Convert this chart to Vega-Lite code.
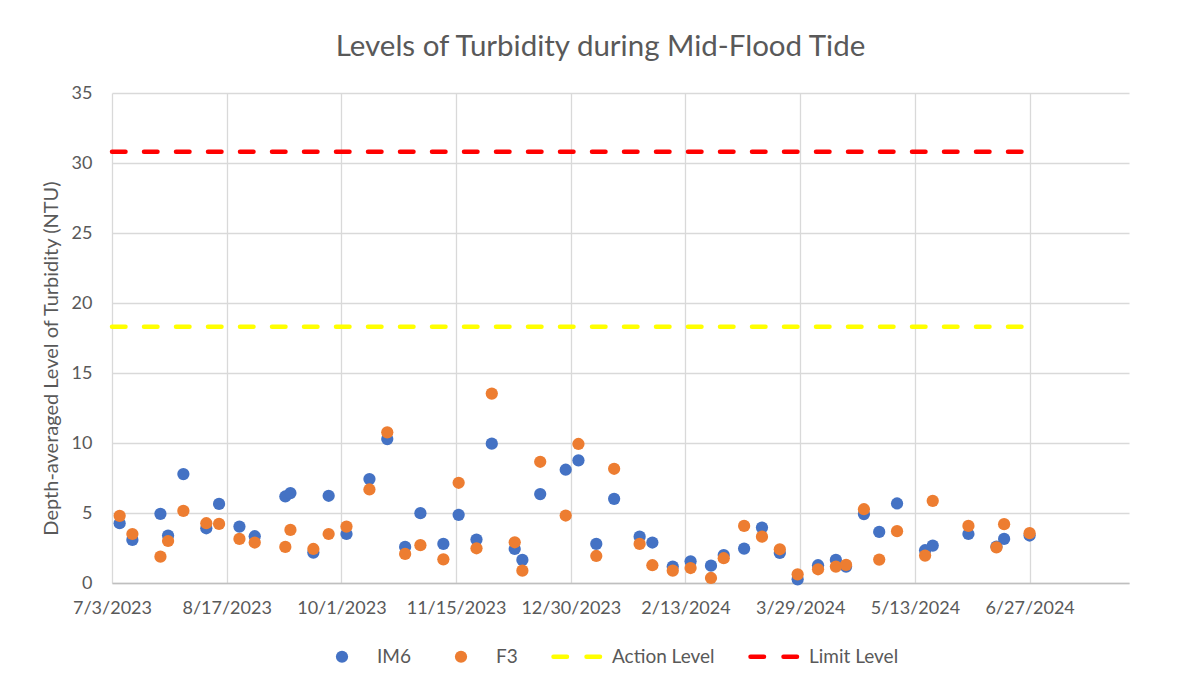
{
  "$schema": "https://vega.github.io/schema/vega-lite/v6.json",
  "width": 1017,
  "height": 490,
  "autosize": {"type": "none"},
  "padding": {"left": 112, "top": 93, "right": 63, "bottom": 103},
  "background": "white",
  "config": {"view": {"stroke": null}, "font": "Lato"},
  "title": {"text": "Levels of Turbidity during Mid-Flood Tide", "fontSize": 29.5, "font": "Lato", "fontWeight": "normal", "color": "#595959", "anchor": "middle", "dx": -20, "offset": 22},
  "datasets": {
    "pts": [
      {"date": "2023-07-06", "series": "IM6", "value": 4.27},
      {"date": "2023-07-11", "series": "IM6", "value": 3.08},
      {"date": "2023-07-22", "series": "IM6", "value": 4.94},
      {"date": "2023-07-25", "series": "IM6", "value": 3.39},
      {"date": "2023-07-31", "series": "IM6", "value": 7.78},
      {"date": "2023-08-09", "series": "IM6", "value": 3.91},
      {"date": "2023-08-14", "series": "IM6", "value": 5.65},
      {"date": "2023-08-22", "series": "IM6", "value": 4.03},
      {"date": "2023-08-28", "series": "IM6", "value": 3.34},
      {"date": "2023-09-09", "series": "IM6", "value": 6.18},
      {"date": "2023-09-11", "series": "IM6", "value": 6.42},
      {"date": "2023-09-20", "series": "IM6", "value": 2.17},
      {"date": "2023-09-26", "series": "IM6", "value": 6.23},
      {"date": "2023-10-03", "series": "IM6", "value": 3.5},
      {"date": "2023-10-12", "series": "IM6", "value": 7.42},
      {"date": "2023-10-19", "series": "IM6", "value": 10.28},
      {"date": "2023-10-26", "series": "IM6", "value": 2.58},
      {"date": "2023-11-01", "series": "IM6", "value": 4.99},
      {"date": "2023-11-10", "series": "IM6", "value": 2.79},
      {"date": "2023-11-16", "series": "IM6", "value": 4.87},
      {"date": "2023-11-23", "series": "IM6", "value": 3.1},
      {"date": "2023-11-29", "series": "IM6", "value": 9.95},
      {"date": "2023-12-08", "series": "IM6", "value": 2.43},
      {"date": "2023-12-11", "series": "IM6", "value": 1.65},
      {"date": "2023-12-18", "series": "IM6", "value": 6.35},
      {"date": "2023-12-28", "series": "IM6", "value": 8.09},
      {"date": "2024-01-02", "series": "IM6", "value": 8.76},
      {"date": "2024-01-09", "series": "IM6", "value": 2.79},
      {"date": "2024-01-16", "series": "IM6", "value": 6.01},
      {"date": "2024-01-26", "series": "IM6", "value": 3.31},
      {"date": "2024-01-31", "series": "IM6", "value": 2.89},
      {"date": "2024-02-08", "series": "IM6", "value": 1.17},
      {"date": "2024-02-15", "series": "IM6", "value": 1.55},
      {"date": "2024-02-23", "series": "IM6", "value": 1.24},
      {"date": "2024-02-28", "series": "IM6", "value": 2.0},
      {"date": "2024-03-07", "series": "IM6", "value": 2.46},
      {"date": "2024-03-14", "series": "IM6", "value": 3.96},
      {"date": "2024-03-21", "series": "IM6", "value": 2.15},
      {"date": "2024-03-28", "series": "IM6", "value": 0.26},
      {"date": "2024-04-05", "series": "IM6", "value": 1.27},
      {"date": "2024-04-12", "series": "IM6", "value": 1.65},
      {"date": "2024-04-16", "series": "IM6", "value": 1.17},
      {"date": "2024-04-23", "series": "IM6", "value": 4.92},
      {"date": "2024-04-29", "series": "IM6", "value": 3.65},
      {"date": "2024-05-06", "series": "IM6", "value": 5.68},
      {"date": "2024-05-17", "series": "IM6", "value": 2.34},
      {"date": "2024-05-20", "series": "IM6", "value": 2.67},
      {"date": "2024-06-03", "series": "IM6", "value": 3.5},
      {"date": "2024-06-14", "series": "IM6", "value": 2.6},
      {"date": "2024-06-17", "series": "IM6", "value": 3.15},
      {"date": "2024-06-27", "series": "IM6", "value": 3.39},
      {"date": "2023-07-06", "series": "F3", "value": 4.8},
      {"date": "2023-07-11", "series": "F3", "value": 3.5},
      {"date": "2023-07-22", "series": "F3", "value": 1.88},
      {"date": "2023-07-25", "series": "F3", "value": 3.0},
      {"date": "2023-07-31", "series": "F3", "value": 5.15},
      {"date": "2023-08-09", "series": "F3", "value": 4.27},
      {"date": "2023-08-14", "series": "F3", "value": 4.22},
      {"date": "2023-08-22", "series": "F3", "value": 3.15},
      {"date": "2023-08-28", "series": "F3", "value": 2.89},
      {"date": "2023-09-09", "series": "F3", "value": 2.58},
      {"date": "2023-09-11", "series": "F3", "value": 3.79},
      {"date": "2023-09-20", "series": "F3", "value": 2.43},
      {"date": "2023-09-26", "series": "F3", "value": 3.5},
      {"date": "2023-10-03", "series": "F3", "value": 4.03},
      {"date": "2023-10-12", "series": "F3", "value": 6.68},
      {"date": "2023-10-19", "series": "F3", "value": 10.76},
      {"date": "2023-10-26", "series": "F3", "value": 2.08},
      {"date": "2023-11-01", "series": "F3", "value": 2.7},
      {"date": "2023-11-10", "series": "F3", "value": 1.69},
      {"date": "2023-11-16", "series": "F3", "value": 7.16},
      {"date": "2023-11-23", "series": "F3", "value": 2.48},
      {"date": "2023-11-29", "series": "F3", "value": 13.53},
      {"date": "2023-12-08", "series": "F3", "value": 2.91},
      {"date": "2023-12-11", "series": "F3", "value": 0.88},
      {"date": "2023-12-18", "series": "F3", "value": 8.66},
      {"date": "2023-12-28", "series": "F3", "value": 4.82},
      {"date": "2024-01-02", "series": "F3", "value": 9.93},
      {"date": "2024-01-09", "series": "F3", "value": 1.93},
      {"date": "2024-01-16", "series": "F3", "value": 8.16},
      {"date": "2024-01-26", "series": "F3", "value": 2.79},
      {"date": "2024-01-31", "series": "F3", "value": 1.27},
      {"date": "2024-02-08", "series": "F3", "value": 0.88},
      {"date": "2024-02-15", "series": "F3", "value": 1.07},
      {"date": "2024-02-23", "series": "F3", "value": 0.36},
      {"date": "2024-02-28", "series": "F3", "value": 1.77},
      {"date": "2024-03-07", "series": "F3", "value": 4.08},
      {"date": "2024-03-14", "series": "F3", "value": 3.31},
      {"date": "2024-03-21", "series": "F3", "value": 2.41},
      {"date": "2024-03-28", "series": "F3", "value": 0.62},
      {"date": "2024-04-05", "series": "F3", "value": 0.98},
      {"date": "2024-04-12", "series": "F3", "value": 1.17},
      {"date": "2024-04-16", "series": "F3", "value": 1.29},
      {"date": "2024-04-23", "series": "F3", "value": 5.27},
      {"date": "2024-04-29", "series": "F3", "value": 1.67},
      {"date": "2024-05-06", "series": "F3", "value": 3.7},
      {"date": "2024-05-17", "series": "F3", "value": 1.96},
      {"date": "2024-05-20", "series": "F3", "value": 5.87},
      {"date": "2024-06-03", "series": "F3", "value": 4.08},
      {"date": "2024-06-14", "series": "F3", "value": 2.55},
      {"date": "2024-06-17", "series": "F3", "value": 4.2},
      {"date": "2024-06-27", "series": "F3", "value": 3.56}
    ],
    "levels": [
      {"series": "Action Level", "start": "2023-07-03", "end": "2024-06-27", "value": 18.3},
      {"series": "Limit Level", "start": "2023-07-03", "end": "2024-06-27", "value": 30.8}
    ]
  },
  "layer": [
    {
      "data": {"name": "pts"},
      "mark": {"type": "point", "filled": true, "opacity": 1, "size": 150, "shape": "circle", "strokeWidth": 0},
      "encoding": {
        "x": {
          "field": "date", "type": "temporal",
          "scale": {"type": "utc", "domain": [{"year": 2023, "month": 7, "date": 3, "utc": true}, {"year": 2024, "month": 8, "date": 5, "utc": true}]},
          "axis": {
            "title": null,
            "values": [
              {"year": 2023, "month": 7, "date": 3, "utc": true},
              {"year": 2023, "month": 8, "date": 17, "utc": true},
              {"year": 2023, "month": 10, "date": 1, "utc": true},
              {"year": 2023, "month": 11, "date": 15, "utc": true},
              {"year": 2023, "month": 12, "date": 30, "utc": true},
              {"year": 2024, "month": 2, "date": 13, "utc": true},
              {"year": 2024, "month": 3, "date": 29, "utc": true},
              {"year": 2024, "month": 5, "date": 13, "utc": true},
              {"year": 2024, "month": 6, "date": 27, "utc": true}
            ],
            "labelExpr": "utcFormat(datum.value, '%-m/%-d/%Y')",
            "grid": true, "gridColor": "#D9D9D9", "gridWidth": 1.3,
            "domainColor": "#BFBFBF", "domainWidth": 1.3,
            "ticks": false, "labelPadding": 16, "labelFontSize": 18, "labelColor": "#595959",
            "labelOverlap": false, "labelFlush": false
          }
        },
        "y": {
          "field": "value", "type": "quantitative",
          "scale": {"domain": [0, 35], "nice": false},
          "axis": {
            "title": "Depth-averaged Level of  Turbidity (NTU)",
            "titleFontSize": 20, "titleFontWeight": "normal", "titleColor": "#595959", "titlePadding": 10, "titleY": 265,
            "values": [0, 5, 10, 15, 20, 25, 30, 35],
            "grid": true, "gridColor": "#D9D9D9", "gridWidth": 1.3,
            "domain": false, "ticks": false, "labelPadding": 20, "labelFontSize": 18, "labelColor": "#595959"
          }
        },
        "color": {
          "field": "series", "type": "nominal",
          "scale": {"domain": ["IM6", "F3", "Action Level", "Limit Level"], "range": ["#4472C4", "#ED7D31", "#FFFF00", "#FF0000"]},
          "legend": {
            "title": null, "orient": "none", "legendX": 206, "legendY": 554, "direction": "horizontal",
            "symbolSize": 2209, "labelFontSize": 19, "labelColor": "#595959", "labelOffset": 40, "columnPadding": 26,
            "encode": {"symbols": {"update": {
              "shape": {"signal": "datum.value === 'IM6' || datum.value === 'F3' ? 'circle' : 'stroke'"},
              "size": {"signal": "datum.value === 'IM6' || datum.value === 'F3' ? 150 : 2209"},
              "x": {"value": 24},
              "fill": {"scale": "color", "field": "value"},
              "stroke": {"scale": "color", "field": "value"},
              "strokeWidth": {"signal": "datum.value === 'IM6' || datum.value === 'F3' ? 0 : 4.5"},
              "strokeDash": {"value": [13.5, 19.5]},
              "strokeCap": {"value": "round"},
              "opacity": {"value": 1}
            }}}
          }
        }
      }
    },
    {
      "data": {"name": "levels"},
      "mark": {"type": "rule", "strokeWidth": 4.5, "strokeDash": [13.5, 18.5], "strokeCap": "round"},
      "encoding": {
        "x": {"field": "start", "type": "temporal"},
        "x2": {"field": "end"},
        "y": {"field": "value", "type": "quantitative"},
        "color": {
          "field": "series", "type": "nominal",
          "legend": {
            "title": null, "orient": "none", "legendX": 206, "legendY": 554, "direction": "horizontal",
            "symbolSize": 2209, "labelFontSize": 19, "labelColor": "#595959", "labelOffset": 40, "columnPadding": 26,
            "encode": {"symbols": {"update": {
              "shape": {"signal": "datum.value === 'IM6' || datum.value === 'F3' ? 'circle' : 'stroke'"},
              "size": {"signal": "datum.value === 'IM6' || datum.value === 'F3' ? 150 : 2209"},
              "x": {"value": 24},
              "fill": {"scale": "color", "field": "value"},
              "stroke": {"scale": "color", "field": "value"},
              "strokeWidth": {"signal": "datum.value === 'IM6' || datum.value === 'F3' ? 0 : 4.5"},
              "strokeDash": {"value": [13.5, 19.5]},
              "strokeCap": {"value": "round"},
              "opacity": {"value": 1}
            }}}
          }
        }
      }
    }
  ]
}
